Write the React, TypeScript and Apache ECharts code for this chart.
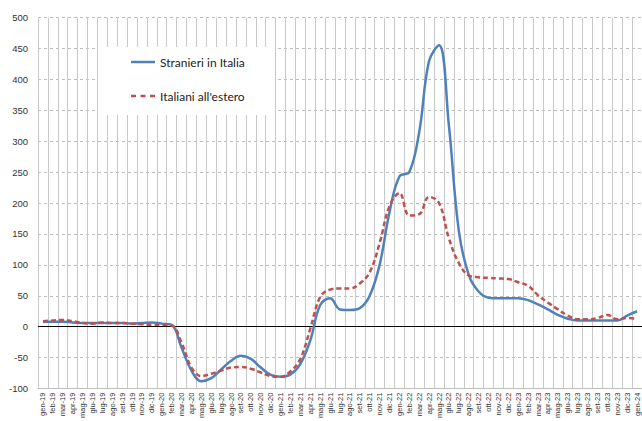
import React, { useEffect, useRef } from "react";
import * as echarts from "echarts";

const months: string[] = [
  "gen-19","feb-19","mar-19","apr-19","mag-19","giu-19","lug-19","ago-19","set-19","ott-19","nov-19","dic-19",
  "gen-20","feb-20","mar-20","apr-20","mag-20","giu-20","lug-20","ago-20","set-20","ott-20","nov-20","dic-20",
  "gen-21","feb-21","mar-21","apr-21","mag-21","giu-21","lug-21","ago-21","set-21","ott-21","nov-21","dic-21",
  "gen-22","feb-22","mar-22","apr-22","mag-22","giu-22","lug-22","ago-22","set-22","ott-22","nov-22","dic-22",
  "gen-23","feb-23","mar-23","apr-23","mag-23","giu-23","lug-23","ago-23","set-23","ott-23","nov-23","dic-23",
  "gen-24",
];

const stranieriInItalia: number[] = [
  8, 8, 8, 7, 6, 6, 6, 6, 6, 5, 6, 7,
  5, 3, -34, -71, -88, -83, -69, -55, -47, -52, -66, -78,
  -81, -77, -60, -22, 35, 46, 28, 27, 30, 50, 100, 185,
  243, 250, 315, 430, 455, 325, 155, 84, 57, 47, 46, 46,
  46, 43, 36, 28, 19, 13, 10, 10, 10, 10, 10, 18,
  25,
];

const italianiAllEstero: number[] = [
  9, 10, 11, 9, 6, 5, 7, 6, 6, 5, 4, 3,
  3, 2, -26, -66, -80, -76, -71, -66, -65, -68, -74, -80,
  -81, -72, -52, -3, 48, 60, 62, 62, 70, 88, 135, 195,
  216, 180, 182, 210, 200, 143, 103, 83, 80, 79, 78, 77,
  72, 66, 51, 39, 28, 18, 12, 12, 14, 19, 12, 14,
  13,
];

const seriesNames: string[] = ["Stranieri in Italia", "Italiani all'estero"];

export default function App() {
  const ref = useRef<HTMLDivElement>(null);
  useEffect(() => {
    if (!ref.current) return;
    const chart = echarts.init(ref.current, null, { renderer: "svg" });
    chart.setOption({
      animation: false,
      backgroundColor: "#ffffff",
      textStyle: { fontFamily: "Liberation Sans, Arial, sans-serif" },
      grid: { left: 38, top: 17.5, width: 610, height: 373, containLabel: false },
      legend: {
        orient: "vertical",
        left: 98,
        top: 47,
        padding: [8, 30, 12, 33],
        itemGap: 20,
        itemWidth: 24,
        itemHeight: 2.5,
        backgroundColor: "#ffffff",
        z: 10,
        textStyle: { fontFamily: "Lato, sans-serif", fontSize: 12, color: "#222", lineHeight: 14 },
        data: [
          { name: seriesNames[0], icon: "path://M0,0h24v2.5h-24z" },
          {
            name: seriesNames[1],
            icon: "path://M0,0h5v2.5h-5z M9.5,0h5v2.5h-5z M19,0h5v2.5h-5z",
          },
        ],
      },
      xAxis: {
        type: "category",
        data: months,
        boundaryGap: true,
        axisLine: { show: true, onZero: false, lineStyle: { color: "#bfbfbf", width: 1 } },
        axisTick: { show: false },
        axisLabel: {
          interval: 0,
          hideOverlap: false,
          rotate: 90,
          fontSize: 7.5,
          margin: 4,
          color: "#333",
        },
        splitLine: { show: true, interval: 0, lineStyle: { color: "#c8c8c8", width: 1 } },
      },
      yAxis: {
        type: "value",
        min: -100,
        max: 500,
        interval: 50,
        axisLine: { show: true, lineStyle: { color: "#c8c8c8" } },
        axisTick: { show: false },
        axisLabel: { fontSize: 9.5, color: "#333", margin: 10 },
        splitLine: { show: true, lineStyle: { color: "#bdbdbd", type: [3, 3], width: 1 } },
      },
      series: [
        {
          name: seriesNames[0],
          type: "line",
          data: stranieriInItalia,
          smooth: 0.4,
          symbol: "none",
          z: 3,
          lineStyle: { color: "#4f81bd", width: 2.5 },
          itemStyle: { color: "#4f81bd" },
          markLine: {
            silent: true,
            symbol: "none",
            label: { show: false },
            lineStyle: { color: "#000000", width: 1, type: "solid" },
            data: [{ yAxis: 0 }],
            z: 1,
          },
        },
        {
          name: seriesNames[1],
          type: "line",
          data: italianiAllEstero,
          smooth: 0.4,
          symbol: "none",
          z: 4,
          lineStyle: { color: "#c0504d", width: 2.5, type: [5, 3] },
          itemStyle: { color: "#c0504d" },
        },
      ],
    });
    return () => chart.dispose();
  }, []);
  return (
    <div
      ref={ref}
      style={{ position: "fixed", left: 0, top: 0, width: 642, height: 421 }}
    />
  );
}
